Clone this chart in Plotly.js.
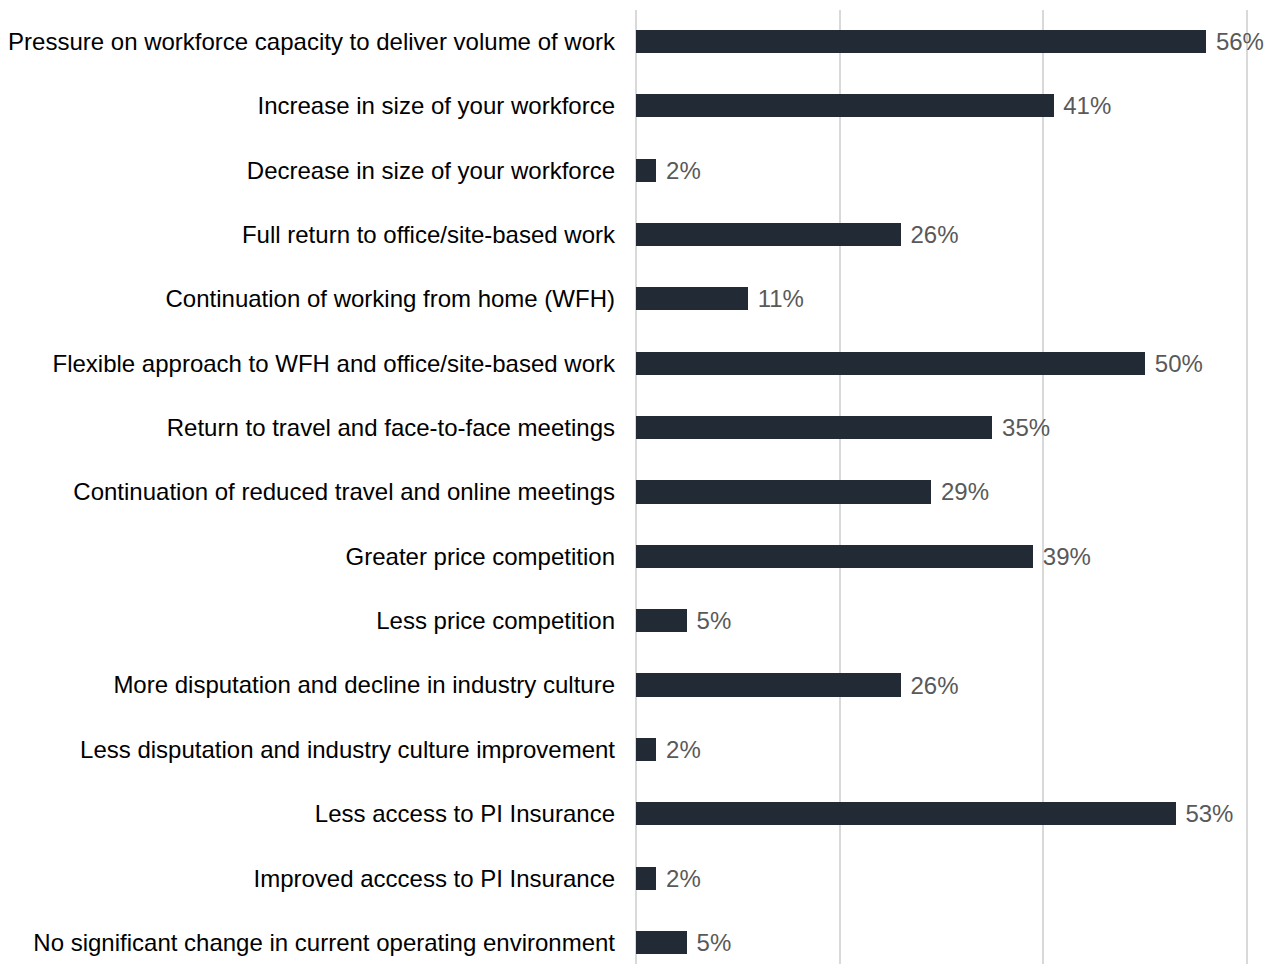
<!DOCTYPE html>
<html>
<head>
<meta charset="utf-8">
<script src="https://cdn.plot.ly/plotly-3.0.1.min.js"></script>
<style>html,body{margin:0;padding:0;background:#fff;}#chart{width:1269px;height:964px;}</style>
</head>
<body>
<div id="chart"></div>
<script>
const categories = [
  "Pressure on workforce capacity to deliver volume of work",
  "Increase in size of your workforce",
  "Decrease in size of your workforce",
  "Full return to office/site-based work",
  "Continuation of working from home (WFH)",
  "Flexible approach to WFH and office/site-based work",
  "Return to travel and face-to-face meetings",
  "Continuation of reduced travel and online meetings",
  "Greater price competition",
  "Less price competition",
  "More disputation and decline in industry culture",
  "Less disputation and industry culture improvement",
  "Less access to PI Insurance",
  "Improved acccess to PI Insurance",
  "No significant change in current operating environment"
];
const values = [56, 41, 2, 26, 11, 50, 35, 29, 39, 5, 26, 2, 53, 2, 5];
const labels = values.map(v => " " + v + "%");
const gridTicks = [0, 20, 40, 60];

const trace = {
  type: "bar",
  orientation: "h",
  x: values,
  y: categories,
  width: 0.36,
  marker: {color: "#222a36"},
  text: labels,
  textposition: "outside",
  constraintext: "none",
  cliponaxis: false,
  textfont: {family: "Liberation Sans, Arial, sans-serif", size: 24, color: "#595959"},
  hoverinfo: "skip"
};

const layout = {
  width: 1269,
  height: 964,
  margin: {l: 635, r: 21, t: 10, b: 0},
  paper_bgcolor: "#ffffff",
  plot_bgcolor: "#ffffff",
  showlegend: false,
  bargap: 0,
  xaxis: {
    range: [-0.1, 60.1],
    tickvals: gridTicks,
    showticklabels: false,
    showgrid: true,
    gridcolor: "#d9d9d9",
    gridwidth: 2,
    zeroline: false,
    showline: false,
    fixedrange: true
  },
  yaxis: {
    type: "category",
    range: [14.334, -0.489],
    showgrid: false,
    zeroline: false,
    showline: false,
    ticks: "",
    ticklabelstandoff: 19,
    tickfont: {family: "Liberation Sans, Arial, sans-serif", size: 24, color: "#000000"},
    automargin: false,
    fixedrange: true
  },
  font: {family: "Liberation Sans, Arial, sans-serif"}
};

Plotly.newPlot("chart", [trace], layout, {displayModeBar: false, staticPlot: true});
</script>
</body>
</html>
